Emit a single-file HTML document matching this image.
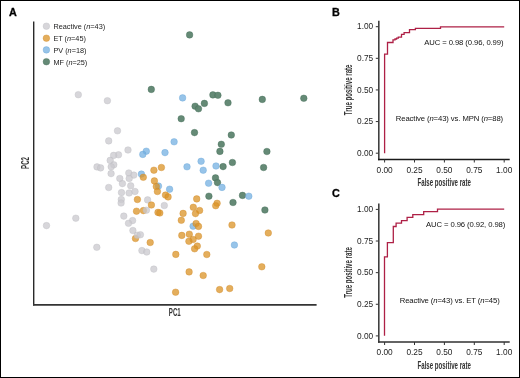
<!DOCTYPE html>
<html><head><meta charset="utf-8"><title>PCA and ROC</title>
<style>
html,body{margin:0;padding:0;background:#fff;}
svg{display:block;will-change:transform;}
text{font-family:"Liberation Sans", sans-serif;fill:#222;}
.pl{font-size:10.8px;font-weight:bold;fill:#000;stroke:#000;stroke-width:0.3px;}
.lg{font-size:7.3px;fill:#222;}
.tk{font-size:8.3px;fill:#1e1e1e;}
.an{font-size:7.7px;fill:#111;letter-spacing:-0.1px;}
.at{font-size:10.2px;font-weight:bold;fill:#333;}
</style></head><body>
<svg width="520" height="378" viewBox="0 0 520 378">
<rect x="0.5" y="0.5" width="519" height="377" fill="#fff" stroke="#000" stroke-width="1"/>
<text x="8.9" y="15.7" class="pl">A</text>
<text x="332" y="16.3" class="pl">B</text>
<text x="332" y="197.2" class="pl">C</text>
<circle cx="46.4" cy="26.2" r="3.3" fill="#cac8ce" fill-opacity="0.75" stroke="#bdbcc2" stroke-opacity="0.55" stroke-width="0.7"/>
<text x="53.4" y="29.0" class="lg">Reactive (<tspan font-style="italic">n</tspan>=43)</text>
<circle cx="46.4" cy="38.2" r="3.3" fill="#db9326" fill-opacity="0.75" stroke="#d08a28" stroke-opacity="0.55" stroke-width="0.7"/>
<text x="53.4" y="41.0" class="lg">ET (<tspan font-style="italic">n</tspan>=45)</text>
<circle cx="46.4" cy="49.9" r="3.3" fill="#74b0e2" fill-opacity="0.75" stroke="#6aa6d8" stroke-opacity="0.55" stroke-width="0.7"/>
<text x="53.4" y="52.7" class="lg">PV (<tspan font-style="italic">n</tspan>=18)</text>
<circle cx="46.4" cy="61.7" r="3.3" fill="#5d846f" fill-opacity="0.95" stroke="#3f6a54" stroke-opacity="0.55" stroke-width="0.7"/>
<text x="53.4" y="64.5" class="lg">MF (<tspan font-style="italic">n</tspan>=25)</text>
<line x1="33.7" y1="21.5" x2="33.7" y2="305.5" stroke="#2a2a2a" stroke-width="1.4"/>
<line x1="33" y1="304.95" x2="316.6" y2="304.95" stroke="#343434" stroke-width="1.7"/>
<text transform="translate(174.8,316.2) scale(0.6,1)" text-anchor="middle" class="at">PC1</text>
<text transform="translate(28.5,163) rotate(-90) scale(0.6,1)" text-anchor="middle" class="at">PC2</text>
<g fill="#5d846f" fill-opacity="0.95" stroke="#3f6a54" stroke-opacity="0.55" stroke-width="0.7"><circle cx="189.6" cy="34.9" r="3.3"/><circle cx="151.3" cy="89.4" r="3.3"/><circle cx="212.9" cy="94.9" r="3.3"/><circle cx="217.9" cy="95.3" r="3.3"/><circle cx="204.4" cy="103.4" r="3.3"/><circle cx="195.1" cy="106.2" r="3.3"/><circle cx="198.5" cy="108.8" r="3.3"/><circle cx="228" cy="102.8" r="3.3"/><circle cx="262.3" cy="99.4" r="3.3"/><circle cx="303.8" cy="98.3" r="3.3"/><circle cx="181.2" cy="118.7" r="3.3"/><circle cx="194.5" cy="132.6" r="3.3"/><circle cx="231.3" cy="135" r="3.3"/><circle cx="221.3" cy="144.3" r="3.3"/><circle cx="219.9" cy="151.4" r="3.3"/><circle cx="266.9" cy="151.5" r="3.3"/><circle cx="232.4" cy="162.5" r="3.3"/><circle cx="263.6" cy="167.5" r="3.3"/><circle cx="215.5" cy="177.9" r="3.3"/><circle cx="217.5" cy="182.6" r="3.3"/><circle cx="208.9" cy="196.2" r="3.3"/><circle cx="242.5" cy="195.4" r="3.3"/><circle cx="233" cy="202.5" r="3.3"/><circle cx="264.9" cy="210" r="3.3"/></g>
<g fill="#74b0e2" fill-opacity="0.75" stroke="#6aa6d8" stroke-opacity="0.55" stroke-width="0.7"><circle cx="182.6" cy="97.9" r="3.3"/><circle cx="174.1" cy="141.8" r="3.3"/><circle cx="146.3" cy="151.2" r="3.3"/><circle cx="142.8" cy="154.4" r="3.3"/><circle cx="165" cy="152.6" r="3.3"/><circle cx="141.4" cy="174.1" r="3.3"/><circle cx="158.5" cy="186.1" r="3.3"/><circle cx="169.6" cy="189.2" r="3.3"/><circle cx="187" cy="166.8" r="3.3"/><circle cx="201.1" cy="161.3" r="3.3"/><circle cx="203.2" cy="170.2" r="3.3"/><circle cx="216" cy="166" r="3.3"/><circle cx="208.6" cy="183.2" r="3.3"/><circle cx="222" cy="187.4" r="3.3"/><circle cx="248.8" cy="196.2" r="3.3"/><circle cx="193.1" cy="226.2" r="3.3"/><circle cx="234.4" cy="245" r="3.3"/></g>
<g fill="#db9326" fill-opacity="0.75" stroke="#d08a28" stroke-opacity="0.55" stroke-width="0.7"><circle cx="143.3" cy="177.3" r="3.3"/><circle cx="161.4" cy="167.5" r="3.3"/><circle cx="153.9" cy="170.2" r="3.3"/><circle cx="154.4" cy="180.9" r="3.3"/><circle cx="156.3" cy="186.5" r="3.3"/><circle cx="157.4" cy="191.5" r="3.3"/><circle cx="165.5" cy="195.1" r="3.3"/><circle cx="168.1" cy="196.9" r="3.3"/><circle cx="137.4" cy="199.5" r="3.3"/><circle cx="136.5" cy="211.2" r="3.3"/><circle cx="143.4" cy="210.6" r="3.3"/><circle cx="158" cy="212.4" r="3.3"/><circle cx="159.8" cy="213" r="3.3"/><circle cx="183.1" cy="213.4" r="3.3"/><circle cx="181.3" cy="220.3" r="3.3"/><circle cx="196.7" cy="198.9" r="3.3"/><circle cx="217.1" cy="203.3" r="3.3"/><circle cx="215.7" cy="205.7" r="3.3"/><circle cx="193.3" cy="207.3" r="3.3"/><circle cx="199.6" cy="210.5" r="3.3"/><circle cx="195.5" cy="213.6" r="3.3"/><circle cx="196.1" cy="223.5" r="3.3"/><circle cx="198.5" cy="226.4" r="3.3"/><circle cx="232" cy="225" r="3.3"/><circle cx="268.3" cy="233" r="3.3"/><circle cx="181.8" cy="235.4" r="3.3"/><circle cx="189.3" cy="234.2" r="3.3"/><circle cx="198.5" cy="236.2" r="3.3"/><circle cx="193.1" cy="239.5" r="3.3"/><circle cx="188.9" cy="241.3" r="3.3"/><circle cx="197.3" cy="246.1" r="3.3"/><circle cx="194.6" cy="248.8" r="3.3"/><circle cx="206.8" cy="254.5" r="3.3"/><circle cx="135.5" cy="238.5" r="3.3"/><circle cx="150.2" cy="242.5" r="3.3"/><circle cx="175.8" cy="254.4" r="3.3"/><circle cx="261.8" cy="266.8" r="3.3"/><circle cx="189.1" cy="271.9" r="3.3"/><circle cx="203.2" cy="275.5" r="3.3"/><circle cx="219.6" cy="289.6" r="3.3"/><circle cx="229.7" cy="288.5" r="3.3"/><circle cx="175.6" cy="292.2" r="3.3"/></g>
<g fill="#cac8ce" fill-opacity="0.75" stroke="#bdbcc2" stroke-opacity="0.55" stroke-width="0.7"><circle cx="78.3" cy="94.7" r="3.3"/><circle cx="107.4" cy="100.7" r="3.3"/><circle cx="117.5" cy="130.8" r="3.3"/><circle cx="108.7" cy="140.9" r="3.3"/><circle cx="128" cy="150" r="3.3"/><circle cx="118.5" cy="154.8" r="3.3"/><circle cx="113.6" cy="155.4" r="3.3"/><circle cx="110.2" cy="160.4" r="3.3"/><circle cx="113.8" cy="164.8" r="3.3"/><circle cx="111.2" cy="166.8" r="3.3"/><circle cx="97" cy="166.9" r="3.3"/><circle cx="100.6" cy="167.9" r="3.3"/><circle cx="111.1" cy="173.6" r="3.3"/><circle cx="128.8" cy="173" r="3.3"/><circle cx="133.8" cy="175.1" r="3.3"/><circle cx="129.2" cy="178.5" r="3.3"/><circle cx="119.8" cy="178.5" r="3.3"/><circle cx="122.4" cy="183.6" r="3.3"/><circle cx="108.7" cy="187.5" r="3.3"/><circle cx="130.7" cy="185.8" r="3.3"/><circle cx="121.5" cy="192.6" r="3.3"/><circle cx="129.1" cy="193" r="3.3"/><circle cx="135" cy="191.5" r="3.3"/><circle cx="121.3" cy="199.5" r="3.3"/><circle cx="121.1" cy="203" r="3.3"/><circle cx="147.6" cy="199.9" r="3.3"/><circle cx="164.3" cy="205.5" r="3.3"/><circle cx="146.4" cy="210.2" r="3.3"/><circle cx="123.8" cy="216.1" r="3.3"/><circle cx="132.6" cy="220.6" r="3.3"/><circle cx="128.5" cy="223.3" r="3.3"/><circle cx="132.9" cy="230.5" r="3.3"/><circle cx="137.3" cy="235.2" r="3.3"/><circle cx="140.4" cy="234.7" r="3.3"/><circle cx="96.8" cy="247.3" r="3.3"/><circle cx="141.9" cy="250.6" r="3.3"/><circle cx="146.7" cy="252" r="3.3"/><circle cx="153.8" cy="269.1" r="3.3"/><circle cx="46.5" cy="225.6" r="3.3"/><circle cx="75.8" cy="218.2" r="3.3"/></g>
<g fill="#db9326" fill-opacity="0.75" stroke="#d08a28" stroke-opacity="0.55" stroke-width="0.7"><circle cx="151.4" cy="205" r="3.3"/></g>
<g fill="#5d846f" fill-opacity="0.95" stroke="#3f6a54" stroke-opacity="0.55" stroke-width="0.7"><circle cx="223.1" cy="166.6" r="3.3"/></g>
<line x1="378.8" y1="20.8" x2="378.8" y2="160.2" stroke="#404040" stroke-width="1.6"/><line x1="378" y1="159.5" x2="509.7" y2="159.5" stroke="#1a1a1a" stroke-width="1.4"/><line x1="375.8" y1="26.70" x2="378" y2="26.70" stroke="#333" stroke-width="1"/><text x="373.2" y="29.35" text-anchor="end" class="tk">1.00</text><line x1="375.8" y1="58.32" x2="378" y2="58.32" stroke="#333" stroke-width="1"/><text x="373.2" y="60.97" text-anchor="end" class="tk">0.75</text><line x1="375.8" y1="89.95" x2="378" y2="89.95" stroke="#333" stroke-width="1"/><text x="373.2" y="92.60" text-anchor="end" class="tk">0.50</text><line x1="375.8" y1="121.57" x2="378" y2="121.57" stroke="#333" stroke-width="1"/><text x="373.2" y="124.22" text-anchor="end" class="tk">0.25</text><line x1="375.8" y1="153.20" x2="378" y2="153.20" stroke="#333" stroke-width="1"/><text x="373.2" y="155.85" text-anchor="end" class="tk">0.00</text><line x1="384.60" y1="159.5" x2="384.60" y2="162.5" stroke="#333" stroke-width="1"/><text x="384.60" y="172.90" text-anchor="middle" class="tk">0.00</text><line x1="414.50" y1="159.5" x2="414.50" y2="162.5" stroke="#333" stroke-width="1"/><text x="414.50" y="172.90" text-anchor="middle" class="tk">0.25</text><line x1="444.40" y1="159.5" x2="444.40" y2="162.5" stroke="#333" stroke-width="1"/><text x="444.40" y="172.90" text-anchor="middle" class="tk">0.50</text><line x1="474.30" y1="159.5" x2="474.30" y2="162.5" stroke="#333" stroke-width="1"/><text x="474.30" y="172.90" text-anchor="middle" class="tk">0.75</text><line x1="504.20" y1="159.5" x2="504.20" y2="162.5" stroke="#333" stroke-width="1"/><text x="504.20" y="172.90" text-anchor="middle" class="tk">1.00</text><path d="M384.6,153.2 V54.2 H387.5 V42.5 H393 V39.9 H395 V39 H396.6 V38.1 H398.3 V37.2 H401.5 V34.3 H404.1 V32.6 H409.5 V29.7 H415.4 V28.4 H440.5 V26.8 H504.2" fill="none" stroke="#ae2046" stroke-width="1.3"/><text x="424.3" y="44.8" class="an">AUC = 0.98 (0.96, 0.99)</text><text x="395.8" y="120.5" class="an">Reactive (<tspan font-style="italic">n</tspan>=43) vs. MPN (<tspan font-style="italic">n</tspan>=88)</text><text transform="translate(444.2,185.9) scale(0.6,1)" text-anchor="middle" class="at">False positive rate</text><text transform="translate(351.5,89.8) rotate(-90) scale(0.6,1)" text-anchor="middle" class="at">True positive rate</text>
<line x1="378.8" y1="203.5" x2="378.8" y2="342.85" stroke="#404040" stroke-width="1.6"/><line x1="378" y1="342.0" x2="509.7" y2="342.0" stroke="#303030" stroke-width="1.7"/><line x1="375.8" y1="209.40" x2="378" y2="209.40" stroke="#333" stroke-width="1"/><text x="373.2" y="212.05" text-anchor="end" class="tk">1.00</text><line x1="375.8" y1="241.02" x2="378" y2="241.02" stroke="#333" stroke-width="1"/><text x="373.2" y="243.67" text-anchor="end" class="tk">0.75</text><line x1="375.8" y1="272.65" x2="378" y2="272.65" stroke="#333" stroke-width="1"/><text x="373.2" y="275.30" text-anchor="end" class="tk">0.50</text><line x1="375.8" y1="304.27" x2="378" y2="304.27" stroke="#333" stroke-width="1"/><text x="373.2" y="306.92" text-anchor="end" class="tk">0.25</text><line x1="375.8" y1="335.90" x2="378" y2="335.90" stroke="#333" stroke-width="1"/><text x="373.2" y="338.55" text-anchor="end" class="tk">0.00</text><line x1="384.60" y1="342.0" x2="384.60" y2="345.0" stroke="#333" stroke-width="1"/><text x="384.60" y="355.10" text-anchor="middle" class="tk">0.00</text><line x1="414.50" y1="342.0" x2="414.50" y2="345.0" stroke="#333" stroke-width="1"/><text x="414.50" y="355.10" text-anchor="middle" class="tk">0.25</text><line x1="444.40" y1="342.0" x2="444.40" y2="345.0" stroke="#333" stroke-width="1"/><text x="444.40" y="355.10" text-anchor="middle" class="tk">0.50</text><line x1="474.30" y1="342.0" x2="474.30" y2="345.0" stroke="#333" stroke-width="1"/><text x="474.30" y="355.10" text-anchor="middle" class="tk">0.75</text><line x1="504.20" y1="342.0" x2="504.20" y2="345.0" stroke="#333" stroke-width="1"/><text x="504.20" y="355.10" text-anchor="middle" class="tk">1.00</text><path d="M384.5,335.7 V256.9 H387.4 V242.6 H393.3 V226.5 H396.1 V223.2 H401.5 V220.7 H407.1 V217.4 H412.8 V214.7 H423.7 V211.6 H437.5 V209.2 H504.2" fill="none" stroke="#ae2046" stroke-width="1.3"/><text x="426.1" y="226.5" class="an">AUC = 0.96 (0.92, 0.98)</text><text x="399.7" y="302.7" class="an">Reactive (<tspan font-style="italic">n</tspan>=43) vs. ET (<tspan font-style="italic">n</tspan>=45)</text><text transform="translate(444.2,368.6) scale(0.6,1)" text-anchor="middle" class="at">False positive rate</text><text transform="translate(351.5,272.5) rotate(-90) scale(0.6,1)" text-anchor="middle" class="at">True positive rate</text>
</svg>
</body></html>
